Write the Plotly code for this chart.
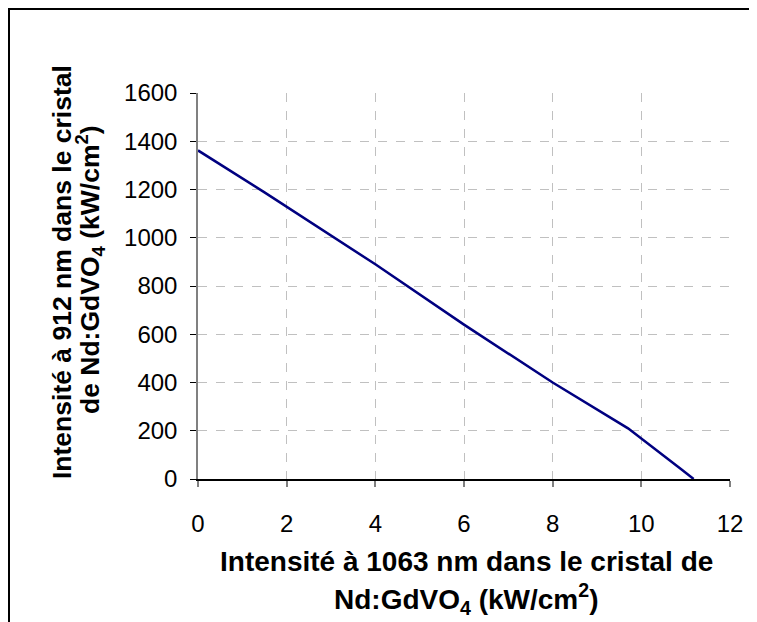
import plotly.graph_objects as go

# Data
intensite_1063 = [0, 1.5, 4, 6, 8, 9.7, 10.9, 11.18]
intensite_912 = [1362, 1188, 890, 640, 400, 210, 40, 0]

x_ticks = [0, 2, 4, 6, 8, 10, 12]
y_ticks = [0, 200, 400, 600, 800, 1000, 1200, 1400, 1600]

# The page body has an 8px margin, so the figure is drawn 8px in from the corner.
OFF = 8
W, H = 757 - OFF, 622 - OFF
# plot area in screen pixels: x 198..730, y 93..479
SX0, SX1, SY0, SY1 = 198, 730, 93, 479
L, T = SX0 - OFF, SY0 - OFF
pw, ph = SX1 - SX0, SY1 - SY0
R, B = W - L - pw, H - T - ph


def px(sx):
    return (sx - SX0) / pw


def py(sy):
    return (SY1 - sy) / ph


font_family = "Liberation Sans, Arial, sans-serif"

fig = go.Figure()
fig.add_trace(go.Scatter(
    x=intensite_1063, y=intensite_912, mode="lines",
    line=dict(color="#000080", width=2.5), showlegend=False,
))

fig.update_layout(
    width=W, height=H,
    margin=dict(l=L, r=R, t=T, b=B),
    paper_bgcolor="white", plot_bgcolor="white",
    font=dict(family=font_family, size=24, color="black"),
    xaxis=dict(
        range=[0, 12], tickvals=x_ticks, ticktext=[str(v) for v in x_ticks],
        showgrid=True, gridcolor="#c0c0c0", griddash="dash", gridwidth=1,
        showline=True, linecolor="black", linewidth=1.5,
        ticks="outside", ticklen=6, tickcolor="#808080", tickwidth=1.5,
        zeroline=False, tickfont=dict(size=24), ticklabelstandoff=16,
    ),
    yaxis=dict(
        range=[0, 1600], tickvals=y_ticks, ticktext=[str(v) for v in y_ticks],
        showgrid=True, gridcolor="#c0c0c0", griddash="dash", gridwidth=1,
        showline=True, linecolor="#808080", linewidth=1.5,
        ticks="outside", ticklen=6, tickcolor="black", tickwidth=1,
        zeroline=False, tickfont=dict(size=24), ticklabelstandoff=8,
    ),
    shapes=[dict(
        type="rect", xref="paper", yref="paper",
        x0=px(9), x1=px(757 + 30),
        y0=py(9), y1=py(622 + 30),
        line=dict(color="black", width=2), layer="below",
    )],
    annotations=[
        dict(
            text="<b>Intensité à 1063 nm dans le cristal de</b>",
            xref="paper", yref="paper",
            x=px(466), y=py(561),
            xanchor="center", yanchor="middle", showarrow=False,
            font=dict(size=28, family=font_family),
        ),
        dict(
            text="<b>Nd:GdVO<sub>4</sub> (kW/cm<sup>2</sup>)</b>",
            xref="paper", yref="paper",
            x=px(466), y=py(599),
            xanchor="center", yanchor="middle", showarrow=False,
            font=dict(size=28, family=font_family),
        ),
        dict(
            text="<b>Intensité à 912 nm dans le cristal</b>",
            xref="paper", yref="paper",
            x=px(62), y=py(272),
            xanchor="center", yanchor="middle", showarrow=False,
            textangle=-90,
            font=dict(size=26.5, family=font_family),
        ),
        dict(
            text="<b>de Nd:GdVO<sub>4</sub> (kW/cm<sup>2</sup>)</b>",
            xref="paper", yref="paper",
            x=px(90), y=py(270),
            xanchor="center", yanchor="middle", showarrow=False,
            textangle=-90,
            font=dict(size=26.5, family=font_family),
        ),
    ],
)

fig.write_html("out.html")
